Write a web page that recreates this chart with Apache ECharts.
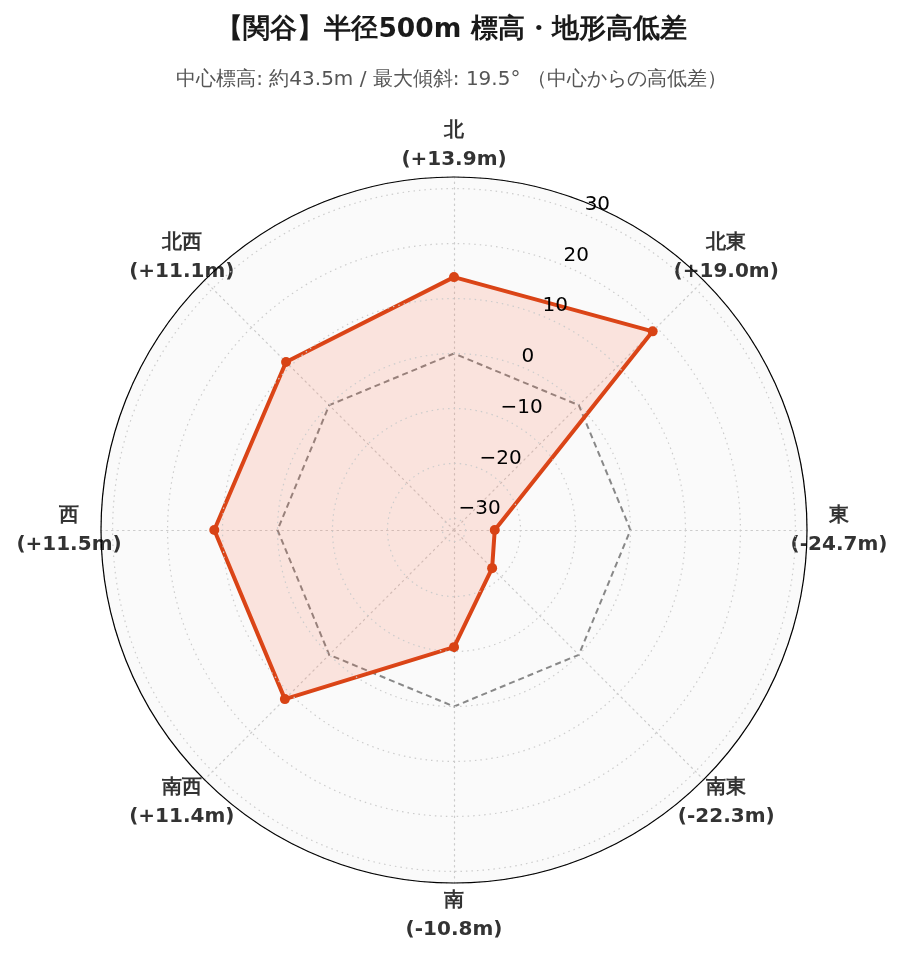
<!DOCTYPE html>
<html><head><meta charset="utf-8">
<script src="https://cdn.jsdelivr.net/npm/echarts@6/dist/echarts.min.js"></script>
<style>html,body{margin:0;padding:0;background:#fff}#c{width:903px;height:962px}</style>
</head><body><div id="c"></div>
<script>
const directions = ['北', '北東', '東', '南東', '南', '南西', '西', '北西'];
const diffs = [13.9, 19.0, -24.7, -22.3, -10.8, 11.4, 11.5, 11.1];
const baseline = [0, 0, 0, 0, 0, 0, 0, 0];
const rMin = -32.11, rMax = 32.11;
const titleText = '【関谷】半径500m 標高・地形高低差';
const subText = '中心標高: 約43.5m / 最大傾斜: 19.5° （中心からの高低差）';

// radar goes counter-clockwise; reorder so directions run clockwise from north
const order = [0, 7, 6, 5, 4, 3, 2, 1];
const fmt = v => (v > 0 ? '+' : '') + v.toFixed(1) + 'm';
const indicators = order.map(i => ({ name: directions[i] + '\n(' + fmt(diffs[i]) + ')', min: rMin, max: rMax }));
const vals = order.map(i => diffs[i]);
const base = order.map(i => baseline[i]);

const FONT = 'DejaVu Sans';
const chart = echarts.init(document.getElementById('c'));
chart.setOption({
  animation: false,
  backgroundColor: '#fff',
  title: {
    text: titleText, subtext: subText, left: 'center', top: 12, itemGap: 26,
    textStyle: { fontFamily: FONT, fontSize: 26.5, fontWeight: 'bold', color: '#1a1a1a' },
    subtextStyle: { fontFamily: FONT, fontSize: 20, color: '#555' }
  },
  polar: { center: [454, 530], radius: 353 },
  angleAxis: {
    type: 'value', min: 0, max: 360, startAngle: 67.5, clockwise: true, z: 4,
    axisLine: { show: true, lineStyle: { color: '#000', width: 1.2 } },
    axisTick: { show: false }, axisLabel: { show: false }, splitLine: { show: false }
  },
  radiusAxis: {
    type: 'value', min: rMin, max: rMax, splitNumber: 7, z: 3,
    axisLine: { show: false }, axisTick: { show: false },
    axisLabel: {
      showMinLabel: false, showMaxLabel: false, fontFamily: FONT, fontSize: 20, color: '#000',
      align: 'left', verticalAlign: 'bottom', margin: 0,
      formatter: v => String(v).replace('-', '\u2212')
    },
    splitLine: { show: true, lineStyle: { color: '#cccccc', type: [1.5, 4], width: 1.2 } }
  },
  radar: {
    center: [454, 530], radius: 353, startAngle: 90, shape: 'circle', splitNumber: 1, z: 0,
    indicator: indicators,
    nameGap: 32,
    axisName: { fontFamily: FONT, fontSize: 20, fontWeight: 'bold', color: '#333', lineHeight: 29, align: 'center', verticalAlign: 'middle' },
    splitLine: { show: false },
    splitArea: { show: true, areaStyle: { color: ['#fafafa'] } },
    axisLine: { show: true, lineStyle: { color: '#cccccc', type: [1.5, 4], width: 1.2 } },
    axisTick: { show: false }, axisLabel: { show: false }
  },
  series: [{
    type: 'radar', z: 2,
    data: [
      { value: base, symbol: 'none', lineStyle: { color: '#888', width: 2, type: [6, 4] } },
      { value: vals, symbol: 'circle', symbolSize: 10,
        itemStyle: { color: '#d84315' },
        lineStyle: { color: '#d84315', width: 4 },
        areaStyle: { color: 'rgba(255,90,50,0.2)' } }
    ]
  }]
});
</script></body></html>
